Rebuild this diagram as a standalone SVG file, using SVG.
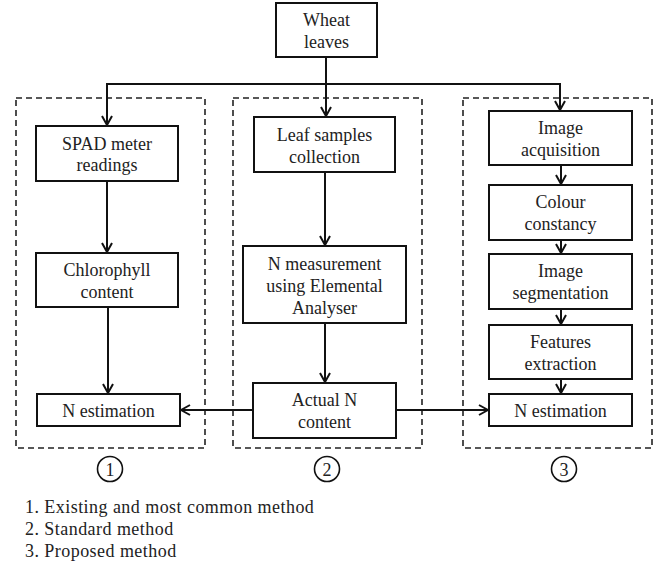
<svg xmlns="http://www.w3.org/2000/svg" width="668" height="568" viewBox="0 0 668 568">
<style>
  .box{fill:#fff;stroke:#111;stroke-width:2}
  .grp{fill:none;stroke:#222;stroke-width:1.6;stroke-dasharray:6 4}
  .t{font-family:"Liberation Serif","Times New Roman",serif;font-size:18px;fill:#222;text-anchor:middle}
  .lg{font-family:"Liberation Serif","Times New Roman",serif;font-size:18px;fill:#222;letter-spacing:0.45px}
  .ln{fill:none;stroke:#111;stroke-width:2}
  .cir{fill:none;stroke:#111;stroke-width:1.6}
</style>
<defs>
  <marker id="arr" viewBox="0 0 12 12" refX="11" refY="6" markerWidth="12" markerHeight="12" markerUnits="userSpaceOnUse" orient="auto">
    <path d="M2,1 L11,6 L2,11" fill="none" stroke="#111" stroke-width="2"/>
  </marker>
</defs>
<rect width="668" height="568" fill="#fff"/>

<g id="groups">
  <rect class="grp" x="16" y="98" width="189" height="350"/>
  <rect class="grp" x="233" y="98" width="189" height="350"/>
  <rect class="grp" x="463" y="98" width="189" height="350"/>
</g>

<g id="connectors">
  <path class="ln" d="M326,57 V116" marker-end="url(#arr)"/>
  <path class="ln" d="M107,125 V84 H560 V110" marker-end="url(#arr)"/>
  <path class="ln" d="M107,84 V125" marker-end="url(#arr)"/>
  <path class="ln" d="M107,181 V252" marker-end="url(#arr)"/>
  <path class="ln" d="M108,307 V393" marker-end="url(#arr)"/>
  <path class="ln" d="M325,172 V245" marker-end="url(#arr)"/>
  <path class="ln" d="M325,323 V382" marker-end="url(#arr)"/>
  <path class="ln" d="M253,410 H181" marker-end="url(#arr)"/>
  <path class="ln" d="M396,410 H488" marker-end="url(#arr)"/>
  <path class="ln" d="M561,165 V184" marker-end="url(#arr)"/>
  <path class="ln" d="M561,240 V253" marker-end="url(#arr)"/>
  <path class="ln" d="M561,309 V324" marker-end="url(#arr)"/>
  <path class="ln" d="M561,379 V393" marker-end="url(#arr)"/>
</g>

<g id="wheat">
  <rect class="box" x="276" y="3" width="101" height="54"/>
  <text class="t" x="326.5" y="26">Wheat</text>
  <text class="t" x="326.5" y="48">leaves</text>
</g>

<g id="spad">
  <rect class="box" x="36" y="126" width="142" height="55"/>
  <text class="t" x="107" y="150">SPAD meter</text>
  <text class="t" x="107" y="171">readings</text>
</g>
<g id="chlorophyll">
  <rect class="box" x="36" y="253" width="142" height="54"/>
  <text class="t" x="107" y="276">Chlorophyll</text>
  <text class="t" x="107" y="298">content</text>
</g>
<g id="nest1">
  <rect class="box" x="37" y="394" width="143" height="32"/>
  <text class="t" x="108.5" y="417">N estimation</text>
</g>

<g id="leaf">
  <rect class="box" x="254" y="117" width="141" height="55"/>
  <text class="t" x="324.5" y="141">Leaf samples</text>
  <text class="t" x="324.5" y="163">collection</text>
</g>
<g id="nmeas">
  <rect class="box" x="243" y="246" width="163" height="77"/>
  <text class="t" x="324.5" y="270">N measurement</text>
  <text class="t" x="324.5" y="292">using Elemental</text>
  <text class="t" x="324.5" y="314">Analyser</text>
</g>
<g id="actual">
  <rect class="box" x="253" y="383" width="143" height="55"/>
  <text class="t" x="324.5" y="406">Actual N</text>
  <text class="t" x="324.5" y="428">content</text>
</g>

<g id="acq">
  <rect class="box" x="489" y="111" width="143" height="54"/>
  <text class="t" x="560.5" y="134">Image</text>
  <text class="t" x="560.5" y="156">acquisition</text>
</g>
<g id="colour">
  <rect class="box" x="489" y="185" width="143" height="55"/>
  <text class="t" x="560.5" y="208">Colour</text>
  <text class="t" x="560.5" y="230">constancy</text>
</g>
<g id="seg">
  <rect class="box" x="489" y="254" width="143" height="55"/>
  <text class="t" x="560.5" y="277">Image</text>
  <text class="t" x="560.5" y="299">segmentation</text>
</g>
<g id="feat">
  <rect class="box" x="489" y="325" width="143" height="54"/>
  <text class="t" x="560.5" y="348">Features</text>
  <text class="t" x="560.5" y="370">extraction</text>
</g>
<g id="nest3">
  <rect class="box" x="489" y="394" width="143" height="32"/>
  <text class="t" x="560.5" y="417">N estimation</text>
</g>

<g id="labels">
  <circle class="cir" cx="110" cy="469" r="12.5"/>
  <text class="t" x="110" y="475.5">1</text>
  <circle class="cir" cx="327" cy="469" r="12.5"/>
  <text class="t" x="327" y="475.5">2</text>
  <circle class="cir" cx="564" cy="469" r="12.5"/>
  <text class="t" x="564" y="475.5">3</text>
</g>

<g id="legend">
  <text class="lg" x="25" y="513">1. Existing and most common method</text>
  <text class="lg" x="25" y="535">2. Standard method</text>
  <text class="lg" x="25" y="557">3. Proposed method</text>
</g>
</svg>
